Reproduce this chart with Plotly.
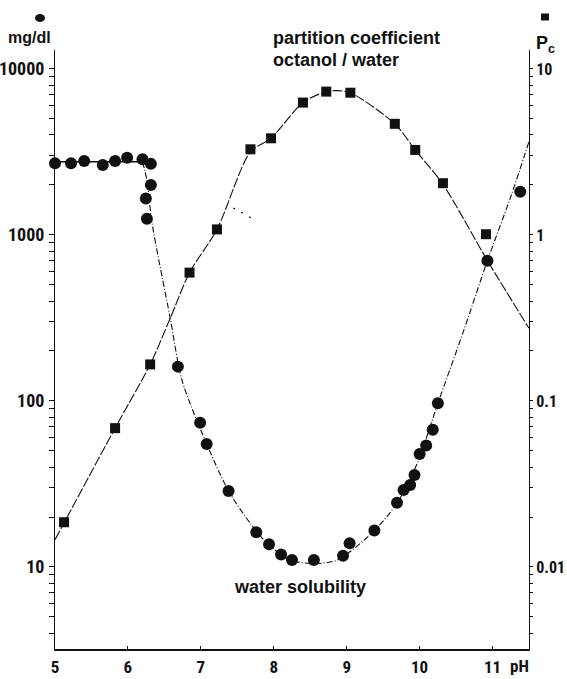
import plotly.graph_objects as go

# ---- data ----
# water solubility (circles), mg/dl
sol_ph = [5.0, 5.22, 5.40, 5.655, 5.824, 5.989, 6.20, 6.315, 6.315, 6.246, 6.26,
          6.685, 6.99, 7.08, 7.38, 7.76, 7.935, 8.10, 8.25, 8.55, 8.95, 9.04,
          9.38, 9.69, 9.78, 9.87, 9.93, 10.00, 10.09, 10.18, 10.25, 10.93, 11.38]
sol_val = [2700, 2700, 2790, 2640, 2790, 2920, 2860, 2680, 2000, 1660, 1250,
           161, 74, 55, 28.7, 16.2, 13.7, 11.9, 11.0, 11.0, 11.7, 13.9,
           16.6, 24.4, 29.1, 31.2, 35.8, 48, 54, 67, 97, 700, 1820]

# partition coefficient octanol/water (squares), Pc
pc_ph = [5.124, 5.824, 6.305, 6.845, 7.221, 7.68, 7.963, 8.40, 8.72, 9.05,
         9.66, 9.94, 10.32, 10.91]
pc_val = [0.0186, 0.0686, 0.166, 0.593, 1.08, 3.28, 3.82, 6.27, 7.30, 7.19,
          4.67, 3.25, 2.05, 1.01]

# fitted curves
sol_plateau_ph = [5.0, 6.2]
sol_plateau_val = [2760, 2760]
sol_fit_ph = [6.2, 6.26, 6.328, 6.58, 6.74, 7.037, 7.38, 7.679, 7.908, 8.228,
              8.548, 8.869, 9.382, 9.694, 9.968, 10.251, 10.608, 10.93, 11.25, 11.5]
sol_fit_val = [2760, 2140, 1200, 315, 134, 61, 28.7, 18.3, 13.9, 11.0,
               10.5, 11.0, 16.6, 24.4, 42.2, 96.8, 268, 700, 1700, 3650]

pc_fit_ph = [5.0, 5.824, 6.305, 6.58, 6.845, 7.221, 7.679, 7.963, 8.40, 8.72,
             8.88, 9.05, 9.66, 9.94, 10.316, 10.93, 11.5]
pc_fit_val = [0.0146, 0.0686, 0.166, 0.315, 0.593, 1.08, 3.16, 3.83, 6.27, 7.30,
              7.4, 7.19, 4.67, 3.25, 2.03, 0.70, 0.274]

stray_ph = [7.445, 7.747]
stray_val = [1455, 1225]

x_ticks = [5, 6, 7, 8, 9, 10, 11]
left_ticks = [10, 100, 1000, 10000]
left_labels = ["10", "100", "1000", "10000"]
right_ticks = [0.01, 0.1, 1, 10]
right_labels = ["0.01", "0.1", "1", "10"]
left_minor = [m * 10 ** k for k in range(0, 5) for m in range(2, 10) if 3.2 < m * 10 ** k < 13000]
right_minor = [round(m * 10.0 ** k, 6) for k in range(-3, 2) for m in range(2, 10)
               if 0.0032 < m * 10.0 ** k < 13]

# ---- layout geometry ----
W, H = 567, 679
L, R, T, B = 55, 38, 50, 30
PW, PH = W - L - R, H - T - B


def px(x, y):
    return (x - L) / PW, (H - B - y) / PH


NARROW = "Liberation Sans Narrow, Roboto Condensed, Liberation Sans, Arial, sans-serif"
WIDE = "Liberation Sans, Arial, Helvetica, sans-serif"
BLACK = "#111111"

fig = go.Figure()

fig.add_trace(go.Scatter(x=sol_plateau_ph, y=sol_plateau_val, mode="lines",
                         line=dict(color=BLACK, width=1.3), hoverinfo="skip"))
fig.add_trace(go.Scatter(x=sol_fit_ph, y=sol_fit_val, mode="lines",
                         line=dict(color=BLACK, width=1.1, shape="spline", smoothing=0.8,
                                   dash="6px,2px,1px,2px"), hoverinfo="skip"))
fig.add_trace(go.Scatter(x=pc_fit_ph, y=pc_fit_val, mode="lines", yaxis="y2",
                         line=dict(color=BLACK, width=1.1, shape="spline", smoothing=0.8,
                                   dash="10px,2px"), hoverinfo="skip"))
fig.add_trace(go.Scatter(x=stray_ph, y=stray_val, mode="lines",
                         line=dict(color=BLACK, width=1.2, dash="2px,7px"), hoverinfo="skip"))
fig.add_trace(go.Scatter(x=sol_ph, y=sol_val, mode="markers", cliponaxis=False,
                         marker=dict(symbol="circle", size=12, color=BLACK)))
fig.add_trace(go.Scatter(x=pc_ph, y=pc_val, mode="markers", yaxis="y2", cliponaxis=False,
                         marker=dict(symbol="square", size=10, color=BLACK)))

yr = [0.506, 4.114]
fig.update_layout(
    width=W, height=H,
    margin=dict(l=L, r=R, t=T, b=B),
    paper_bgcolor="white", plot_bgcolor="white",
    showlegend=False,
    font=dict(family=NARROW, size=16, color=BLACK),
    xaxis=dict(range=[5, 11.5], tickvals=x_ticks, ticktext=[str(v) for v in x_ticks],
               ticks="inside", ticklen=3, tickcolor=BLACK, showgrid=False, zeroline=False,
               showline=True, linecolor=BLACK, linewidth=1.5, ticklabelstandoff=2,
               automargin=False,
               tickfont=dict(family=NARROW, size=17, weight="bold")),
    yaxis=dict(type="log", range=yr, tickmode="array",
               tickvals=left_ticks + left_minor,
               ticktext=left_labels + [""] * len(left_minor),
               ticks="outside", ticklen=5, tickcolor=BLACK, showgrid=False, zeroline=False,
               showline=True, linecolor=BLACK, linewidth=1, ticklabelstandoff=1,
               automargin=False,
               tickfont=dict(family=NARROW, size=18, weight="bold")),
    yaxis2=dict(type="log", range=[yr[0] - 3, yr[1] - 3], overlaying="y", side="right",
                tickmode="array", tickvals=right_ticks + right_minor,
                ticktext=right_labels + [""] * len(right_minor),
                ticks="outside", ticklen=3, tickcolor=BLACK, showgrid=False, zeroline=False,
                showline=True, linecolor=BLACK, linewidth=1, ticklabelstandoff=0,
                automargin=False,
                tickfont=dict(family=NARROW, size=16, weight="bold")),
)

ann = []


def add_text(text, x, y, size=17, xanchor="center", family=WIDE):
    xp, yp = px(x, y)
    ann.append(dict(text=text, x=xp, y=yp, xref="paper", yref="paper", showarrow=False,
                    xanchor=xanchor, yanchor="middle",
                    font=dict(family=family, size=size, color=BLACK, weight="bold")))


add_text("mg/dl", 29, 37, size=16)
add_text("P<sub>c</sub>", 545, 44, size=18)
add_text("partition coefficient", 271, 38, size=18, xanchor="left")
add_text("octanol / water", 271, 60, size=18, xanchor="left")
add_text("water solubility", 300, 587, size=18)
add_text("pH", 519, 666, size=17, family=NARROW)
fig.update_layout(annotations=ann)

# symbol keys above the axis titles
cx, cy = px(40, 18)
sx, sy = px(545, 17)
fig.add_shape(type="circle", xref="paper", yref="paper", xsizemode="pixel", ysizemode="pixel",
              xanchor=cx, yanchor=cy, x0=-5, x1=5, y0=-4, y1=4,
              fillcolor=BLACK, line=dict(width=0))
fig.add_shape(type="rect", xref="paper", yref="paper", xsizemode="pixel", ysizemode="pixel",
              xanchor=sx, yanchor=sy, x0=-4, x1=4, y0=-3.5, y1=3.5,
              fillcolor=BLACK, line=dict(width=0))

fig.write_html("out.html")
